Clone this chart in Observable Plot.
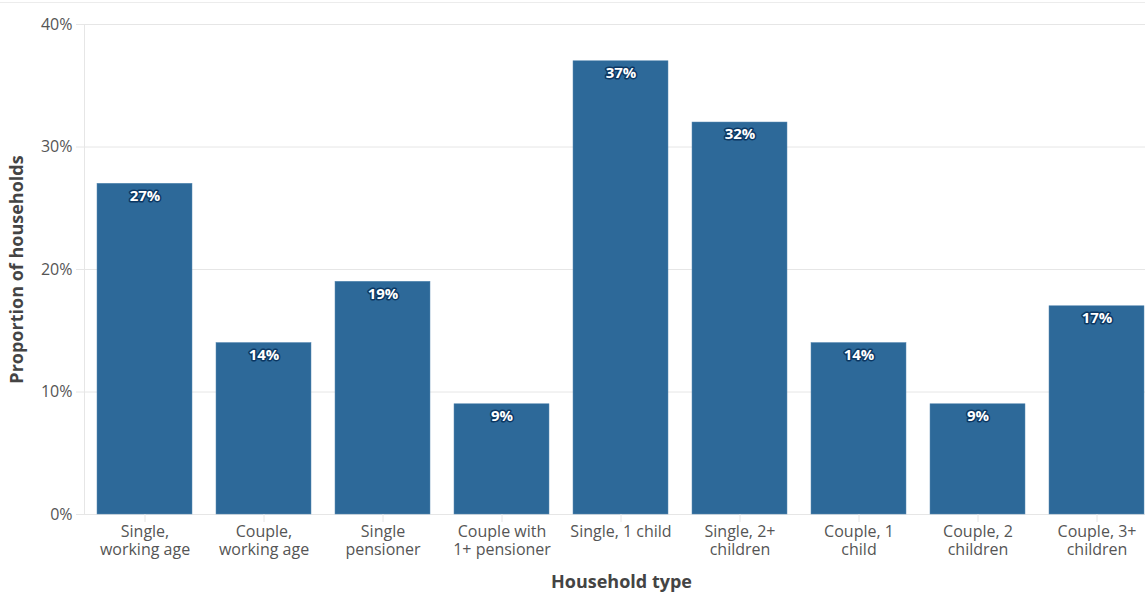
<!DOCTYPE html>
<html>
<head>
<meta charset="utf-8">
<script src="https://cdn.jsdelivr.net/npm/d3@7"></script>
<script src="https://cdn.jsdelivr.net/npm/@observablehq/plot@0.6"></script>
<style>
  html, body { margin: 0; padding: 0; overflow: hidden; background: #fff; }
  #chart { margin-top: 2px; border-top: 1px solid #ececec; width: 1145px; overflow: hidden; }
  #chart svg { display: block; max-width: none !important; }
</style>
</head>
<body>
<div id="chart"></div>
<script>
// Household types, in display order
const householdTypes = [
  "Single, working age",
  "Couple, working age",
  "Single pensioner",
  "Couple with 1+ pensioner",
  "Single, 1 child",
  "Single, 2+ children",
  "Couple, 1 child",
  "Couple, 2 children",
  "Couple, 3+ children"
];

// Axis labels for each household type (wrapped onto two lines)
const tickLabels = [
  "Single,\nworking age",
  "Couple,\nworking age",
  "Single\npensioner",
  "Couple with\n1+ pensioner",
  "Single, 1 child",
  "Single, 2+\nchildren",
  "Couple, 1\nchild",
  "Couple, 2\nchildren",
  "Couple, 3+\nchildren"
];

// Proportion of households (%)
const shares = [27, 14, 19, 9, 37, 32, 14, 9, 17];

// Y axis ticks (%)
const yTicks = [0, 10, 20, 30, 40];

const data = householdTypes.map((type, i) => ({ type, share: shares[i] }));
const labelOf = new Map(householdTypes.map((t, i) => [t, tickLabels[i]]));

const barColor = "#2d6999";
const gridColor = "#e6e6e6";

const chart = Plot.plot({
  width: 1158,
  height: 589,
  marginLeft: 84,
  marginRight: 0,
  marginTop: 21,
  marginBottom: 78,
  style: {
    fontFamily: "'Open Sans', sans-serif",
    fontSize: "16px",
    color: "#555",
    background: "#fff"
  },
  x: { domain: householdTypes, paddingInner: 0.2, paddingOuter: 0.1 },
  y: { domain: [0, 40] },
  marks: [
    Plot.gridY(yTicks, { stroke: gridColor, strokeOpacity: 1 }),
    Plot.frame({ anchor: "left", stroke: gridColor, strokeOpacity: 1 }),
    Plot.barY(data, { x: "type", y: "share", fill: barColor, stroke: "#5b8bb3", strokeWidth: 0.5 }),
    Plot.axisY(yTicks, {
      tickSize: 8,
      tickPadding: 4,
      stroke: gridColor,
      fill: "#555",
      fontSize: 16,
      tickFormat: d => d + "%",
      label: null
    }),
    Plot.axisX({
      tickSize: 8,
      tickPadding: 2,
      stroke: gridColor,
      fill: "#555",
      fontSize: 16,
      lineHeight: 1.125,
      tickFormat: d => labelOf.get(d),
      label: null
    }),
    Plot.text(data, {
      x: "type",
      y: "share",
      text: d => d.share + "%",
      dy: 12,
      fill: "white",
      stroke: "#0b3763",
      strokeWidth: 3,
      fontWeight: "bold",
      fontSize: 15
    }),
    Plot.text(["Proportion of households"], {
      frameAnchor: "left",
      textAnchor: "middle",
      lineAnchor: "middle",
      rotate: -90,
      dx: -67,
      fill: "#444",
      fontWeight: "bold",
      fontSize: 18
    }),
    Plot.text(["Household type"], {
      frameAnchor: "bottom",
      textAnchor: "middle",
      lineAnchor: "middle",
      dy: 68,
      fill: "#444",
      fontWeight: "bold",
      fontSize: 18
    })
  ]
});

document.getElementById("chart").appendChild(chart);
</script>
</body>
</html>
